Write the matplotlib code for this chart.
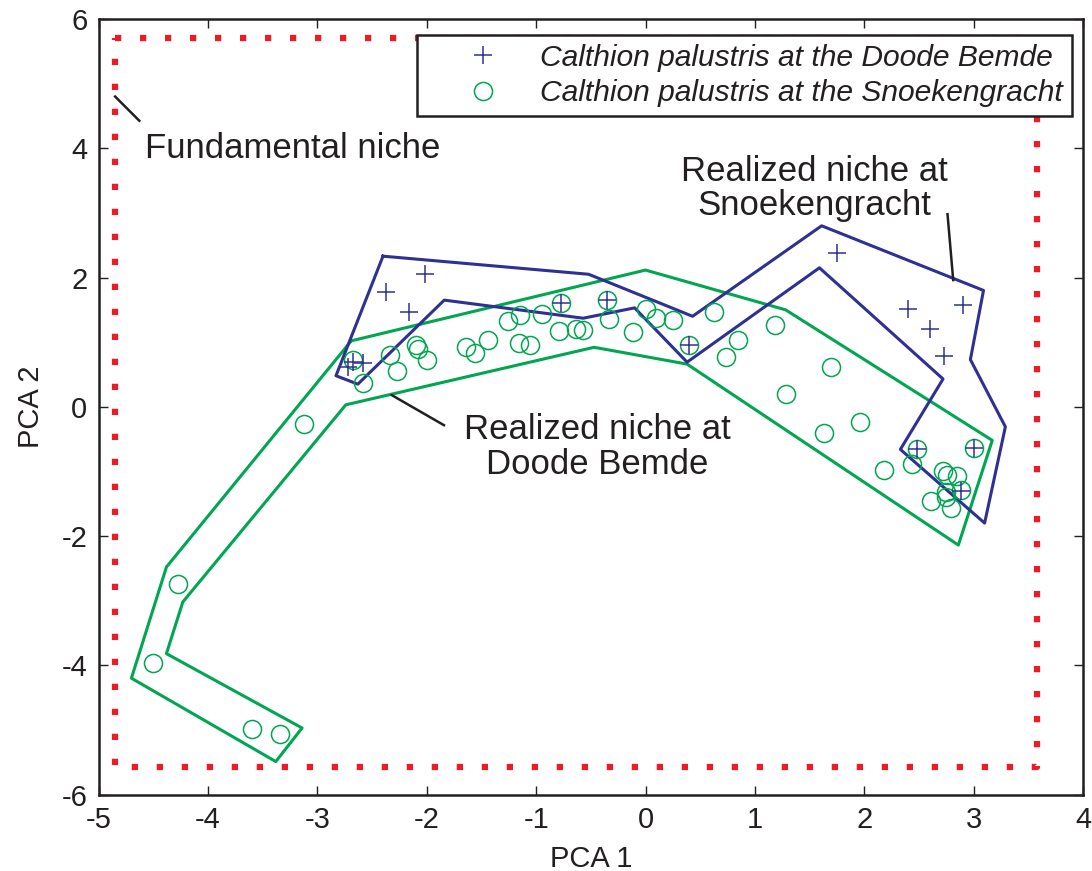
import matplotlib
matplotlib.use("Agg")
import matplotlib.pyplot as plt

plt.rcParams['font.family'] = ['Liberation Sans', 'DejaVu Sans']

# --- data ---
doode_x = [-2.72, -2.67, -2.58, -2.37, -2.16, -2.02, -0.77, -0.35, 0.40, 1.75,
           2.40, 2.60, 2.73, 2.90, 2.48, 3.00, 2.88]
doode_y = [0.62, 0.70, 0.67, 1.78, 1.46, 2.05, 1.61, 1.65, 0.95, 2.38,
           1.52, 1.20, 0.79, 1.57, -0.66, -0.64, -1.30]

snoek_x = [-4.50, -4.27, -3.60, -3.34, -3.12, -2.67, -2.58, -2.34, -2.27, -2.10,
           -2.08, -2.00, -1.64, -1.56, -1.44, -1.26, -1.15, -1.16, -1.06, -0.95,
           -0.77, -0.79, -0.64, -0.57, -0.35, -0.33, -0.11, 0.00, 0.10, 0.25,
           0.40, 0.63, 0.74, 0.85, 1.18, 1.28, 1.63, 1.70, 1.96, 2.18,
           2.44, 2.48, 2.61, 2.72, 2.75, 2.75, 2.76, 2.79, 2.85, 2.88, 3.00]
snoek_y = [-3.97, -2.74, -4.99, -5.06, -0.27, 0.72, 0.36, 0.80, 0.56, 0.95,
           0.89, 0.72, 0.92, 0.83, 1.03, 1.33, 1.42, 0.99, 0.95, 1.44,
           1.60, 1.17, 1.21, 1.19, 1.65, 1.36, 1.16, 1.52, 1.37, 1.34,
           0.95, 1.46, 0.77, 1.03, 1.26, 0.20, -0.41, 0.62, -0.24, -0.98,
           -0.88, -0.66, -1.46, -0.99, -1.32, -1.39, -1.05, -1.57, -1.07, -1.29, -0.64]

blue_poly_x = [-2.40, -0.52, 0.43, 1.61, 3.09, 2.97, 3.29, 3.10, 2.33, 2.72,
               1.59, 0.38, -0.10, -0.57, -1.84, -2.63, -2.83, -2.40]
blue_poly_y = [2.33, 2.05, 1.40, 2.80, 1.80, 0.73, -0.31, -1.80, -0.66, 0.43,
               2.15, 0.69, 1.53, 1.37, 1.65, 0.35, 0.48, 2.33]

green_poly_x = [-2.69, 0.00, 1.28, 3.17, 2.86, 0.38, -0.47, -2.74, -4.23, -4.38,
                -3.14, -3.38, -4.70, -4.38, -2.69]
green_poly_y = [1.02, 2.115, 1.50, -0.52, -2.14, 0.66, 0.92, 0.03, -3.02, -3.82,
                -4.97, -5.49, -4.20, -2.48, 1.02]

fund_x = [-4.85, 3.58, 3.58, -4.85, -4.85]
fund_y = [5.71, 5.71, -5.58, -5.58, 5.71]

xticks = [-5, -4, -3, -2, -1, 0, 1, 2, 3, 4]
yticks = [-6, -4, -2, 0, 2, 4, 6]

BLUE = '#2E3192'
GREEN = '#00A651'
RED = '#ED1C24'
INK = '#231F20'

fig = plt.figure(figsize=(10.92, 8.71), dpi=100)
ax = fig.add_axes([0.0903, 0.0878, 0.9015, 0.8904])

ax.plot(fund_x, fund_y, color=RED, lw=4.5, linestyle=(0, (1, 3)),
        dash_capstyle='butt', zorder=2)
ax.plot(green_poly_x, green_poly_y, color=GREEN, lw=2.2, zorder=3)
ax.plot(blue_poly_x, blue_poly_y, color=BLUE, lw=2.2, zorder=3)

ax.plot(doode_x, doode_y, linestyle='none', marker='+', ms=13, mew=1.1, color=BLUE,
        label='Calthion palustris at the Doode Bemde', zorder=5)
ax.plot(snoek_x, snoek_y, linestyle='none', marker='o', ms=13, mew=1.1, mfc='none',
        mec=GREEN, label='Calthion palustris at the Snoekengracht', zorder=4)

# annotations
ax.plot([-4.849, -4.628], [4.80, 4.426], color=INK, lw=1.8, zorder=6)
ax.text(-4.575, 4.0, 'Fundamental niche', fontsize=25, ha='left', va='center', color=INK)
ax.plot([2.813, 2.761], [1.96, 2.98], color=INK, lw=1.8, zorder=6)
ax.text(1.547, 3.376, 'Realized niche at\nSnoekengracht', fontsize=25, ha='center',
        va='center', linespacing=1.05, color=INK)
ax.plot([-2.32, -1.843], [0.18, -0.285], color=INK, lw=1.8, zorder=6)
ax.text(-0.444, -0.625, 'Realized niche at\nDoode Bemde', fontsize=25, ha='center',
        va='center', linespacing=1.05, color=INK)

ax.set_xlim(-5, 4)
ax.set_ylim(-6, 6)
ax.set_xticks(xticks)
ax.set_yticks(yticks)
ax.set_xticklabels([str(t) for t in xticks])
ax.set_yticklabels([str(t) for t in yticks])
ax.tick_params(direction='in', length=6.5, width=1.0, labelsize=21, top=True, right=True,
               colors=INK, pad=8)
for s in ax.spines.values():
    s.set_linewidth(1.8)
    s.set_color(INK)
ax.set_xlabel('PCA 1', fontsize=21, color=INK, labelpad=8)
ax.set_ylabel('PCA 2', fontsize=21, color=INK, labelpad=12)

leg = ax.legend(loc='upper right', bbox_to_anchor=(0.9888, 0.9795), fancybox=False,
                prop={'style': 'italic', 'size': 21.6}, frameon=True, edgecolor=INK,
                framealpha=1.0, borderpad=0.3, handletextpad=0.0, labelspacing=0.25,
                handlelength=3.8, borderaxespad=0)
leg.set_zorder(10)
leg.get_frame().set_linewidth(1.8)
for t in leg.get_texts():
    t.set_color(INK)

fig.savefig('out.png', dpi=100)
